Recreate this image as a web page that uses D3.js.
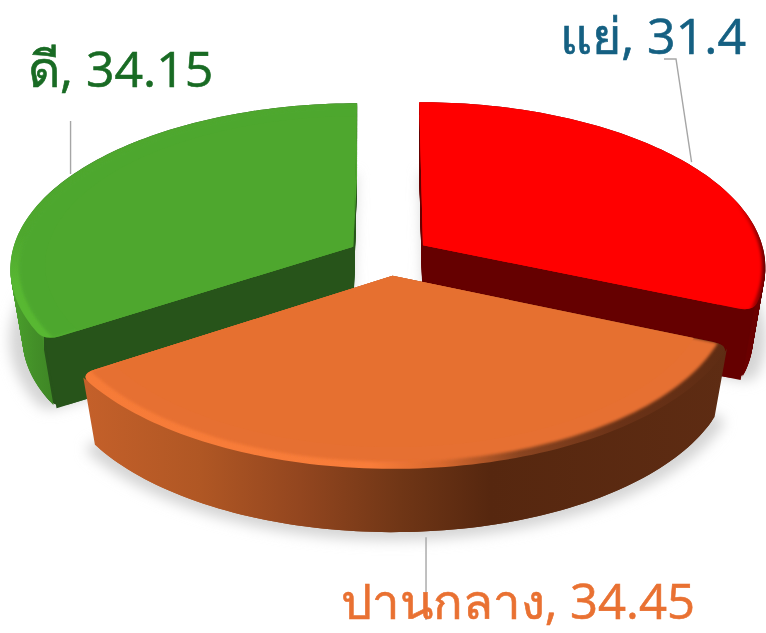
<!DOCTYPE html>
<html><head><meta charset="utf-8">
<script src="https://cdn.jsdelivr.net/npm/d3@7/dist/d3.min.js"></script>
<style>html,body{margin:0;padding:0;background:#fff;overflow:hidden}svg{display:block}text{font-family:"Open Sans","Noto Sans","DejaVu Sans",sans-serif}</style>
</head><body><svg id="c" width="766" height="633"></svg>
<script>
const categories = ["แย่", "ปานกลาง", "ดี"];
const values = [31.4, 34.45, 34.15];
const topColors = ["#FF0000", "#E67030", "#4EA72E"];
const innerColors = ["#650000", "#5E2C13", "#27541A"];
const labelColors = ["#156082", "#E97132", "#196B24"];
const rimScale = [0.99, 0.968, 0.975];

// projection constants of the tilted pie
const CX = 389, CY = 256, AX = 342, BY = 163.5, PERSP = 0.125, EXPLODE = 0.12, DEPTH = 71, TAPER = 0.035;
const xS = d3.scaleLinear().domain([-1, 1]).range([CX - AX, CX + AX]);
const yS = d3.scaleLinear().domain([-1, 1]).range([CY + BY, CY - BY]);
const project = (X, Z, dy = 0) => { const s = 1 / (1 + PERSP * Z); return [xS(X * s), yS(Z * s) + dy]; };

const slices = d3.pie().sort(null)(values).map((d, i) => {
  const mid = (d.startAngle + d.endAngle) / 2;
  return { i, t0: d.startAngle, t1: d.endAngle, mid, ox: EXPLODE * Math.sin(mid), oz: EXPLODE * Math.cos(mid) };
});
const pt = (s, t, r, dy = 0) => project(s.ox + r * Math.sin(t), s.oz + r * Math.cos(t), dy);
const TRIM = 0.05, EDGE = 0.955, STEPS = 90;
const rounded = t => Math.cos(t) < 0;

// r scales the rim; corners are rounded when round is true
function outline(s, r, dy = 0, round = false) {
  const p = d3.path(), a = pt(s, 0, 0, dy);
  p.moveTo(a[0], a[1]);
  const rs = rounded(s.t0) && round, re = rounded(s.t1) && round;
  const ta = s.t0 + (rs ? TRIM : 0), tb = s.t1 - (re ? TRIM : 0);
  if (rs) {
    const e = pt(s, s.t0, r * EDGE, dy), c = pt(s, s.t0, r, dy), n = pt(s, ta, r, dy);
    p.lineTo(e[0], e[1]); p.quadraticCurveTo(c[0], c[1], n[0], n[1]);
  }
  d3.range(STEPS + 1).forEach(k => { const q = pt(s, ta + (tb - ta) * k / STEPS, r, dy); p.lineTo(q[0], q[1]); });
  if (re) {
    const e = pt(s, s.t1, r * EDGE, dy), c = pt(s, s.t1, r, dy);
    p.quadraticCurveTo(c[0], c[1], e[0], e[1]);
  }
  p.closePath();
  return p.toString();
}
const sweepR = dy => 1 - TAPER * dy / DEPTH;
// outer wall: only the part of the rim that faces the viewer
function band(s) {
  const ta = s.t0 + (rounded(s.t0) ? TRIM * 0.4 : 0), tb = s.t1 - (rounded(s.t1) ? TRIM * 0.4 : 0);
  const ts = d3.range(STEPS + 1).map(k => ta + (tb - ta) * k / STEPS)
    .filter(t => pt(s, t + 0.001, 1)[0] < pt(s, t, 1)[0]);
  return d3.line()(ts.map(t => pt(s, t, 1)).concat(ts.slice().reverse().map(t => pt(s, t, 1 - TAPER, DEPTH)))) + "Z";
}
function radialWall(s, t) {
  return d3.line()([pt(s, t, 0), pt(s, t, 1), pt(s, t, 1 - TAPER, DEPTH), pt(s, t, 0, DEPTH)]) + "Z";
}

const svg = d3.select("#c");
const defs = svg.append("defs");
const grad = (id, stops, vertical = false) => {
  const g = defs.append("linearGradient").attr("id", id).attr("gradientUnits", "userSpaceOnUse")
    .attr("x1", 0).attr("y1", 0).attr("x2", vertical ? 0 : 766).attr("y2", vertical ? 633 : 0);
  const span = vertical ? 633 : 766;
  stops.forEach(([x, c]) => g.append("stop").attr("offset", x / span).attr("stop-color", c));
};
grad("wall0", [[0, "#6A0000"], [766, "#6A0000"]]);
grad("wall1", [[85, "#C4602A"], [200, "#B05724"], [300, "#93461F"], [400, "#703616"], [490, "#56270F"], [730, "#5E2C13"]]);
grad("wall2", [[12, "#4AA02C"], [35, "#438F28"], [70, "#3A7E22"]]);
grad("sweep0", [[0, "#650000"], [766, "#650000"]]);
grad("sweep1", [[85, "#C4602A"], [200, "#B05724"], [300, "#93461F"], [400, "#703616"], [490, "#56270F"], [730, "#5E2C13"]]);
grad("sweep2", [[12, "#4AA02C"], [44, "#438F28"], [44, "#27541A"], [766, "#27541A"]]);
grad("rim0", [[0, "#FF0000"], [735, "#FF0000"], [750, "#C00000"], [766, "#6A0000"]]);
grad("rim1", [[85, "#F67B38"], [370, "#F97D3A"], [440, "#D9692E"], [520, "#8A4420"], [620, "#6A3217"], [730, "#5E2C13"]]);
grad("rim2", [[0, "#4EA72E"], [235, "#4EA72E"], [285, "#58B832"], [633, "#58B832"]], true);
const blur = (id, sd) => defs.append("filter").attr("id", id).attr("x", "-20%").attr("y", "-20%").attr("width", "140%").attr("height", "140%")
  .append("feGaussianBlur").attr("stdDeviation", sd);
blur("shadowBlur", 6);
blur("rimBlur", 1.6);

// soft shadows under the slices
svg.append("g").selectAll("path").data(slices).join("path")
  .attr("d", s => outline(s, 1 - TAPER, DEPTH, true))
  .attr("transform", `translate(${CX},${CY + 45}) scale(1.035) translate(${-CX},${-CY - 45})`)
  .attr("fill", "#d4d4d4").attr("filter", "url(#shadowBlur)");

const faces0 = s => Math.sin(s.t0) < -1e-6, faces1 = s => Math.sin(s.t1) > 1e-6;
[2, 0, 1].forEach(i => {
  const s = slices[i], g = svg.append("g");
  // sweep of the outline gives the rounded silhouette of the block
  g.append("g").selectAll("path").data(d3.range(0, DEPTH + 1, 1)).join("path")
    .attr("d", dy => outline(s, sweepR(dy), dy, true)).attr("fill", `url(#sweep${i})`);
  if (faces0(s)) g.append("path").attr("d", radialWall(s, s.t0)).attr("fill", innerColors[i]);
  if (faces1(s)) g.append("path").attr("d", radialWall(s, s.t1)).attr("fill", innerColors[i]);
  // the green block shows no dark edge along its back straight side
  if (i === 2) g.append("path")
    .attr("d", d3.line()([pt(s, 0, 0), pt(s, s.t1, 1), pt(s, s.t1, 1 - TAPER, DEPTH)]) + "Z")
    .attr("fill", topColors[i]);
  g.append("path").attr("d", band(s)).attr("fill", `url(#wall${i})`);
  defs.append("clipPath").attr("id", `top${i}`).append("path").attr("d", outline(s, 1, 0, true));
  g.append("path").attr("d", outline(s, 1, 0, true)).attr("fill", `url(#rim${i})`);
  g.append("g").attr("clip-path", `url(#top${i})`)
    .append("path").attr("d", outline(s, rimScale[i])).attr("fill", topColors[i]).attr("filter", "url(#rimBlur)");
  g.append("path").attr("d", outline(s, 0.9)).attr("fill", topColors[i]);
});

// leader lines start from each slice's mid-angle on the rim
const leaderPaths = [
  s => { const a = pt(s, s.mid, 1); return [[a[0] + 6, a[1]], [676, 59], [664, 59]]; },
  s => { const a = pt(s, s.mid, 1 - TAPER, DEPTH + 6); return [a, [a[0], 620]]; },
  s => { const a = pt(s, s.mid, 1); return [[a[0] - 3, a[1]], [a[0] - 3, 121]]; }
];
svg.append("g").selectAll("path").data(slices).join("path")
  .attr("d", s => d3.line()(leaderPaths[s.i](s)))
  .attr("fill", "none").attr("stroke", "#A6A6A6").attr("stroke-width", 1.4);

const labelAnchors = [[746, 54, "end", 50], [695, 619, "end", 49], [28, 87, "start", 50]];
svg.append("g").selectAll("text").data(slices).join("text")
  .attr("x", s => labelAnchors[s.i][0]).attr("y", s => labelAnchors[s.i][1])
  .attr("text-anchor", s => labelAnchors[s.i][2])
  .attr("font-size", s => labelAnchors[s.i][3]).attr("fill", s => labelColors[s.i])
  .attr("stroke", s => labelColors[s.i]).attr("stroke-width", 0.6)
  .text(s => `${categories[s.i]}, ${values[s.i]}`);
</script></body></html>
